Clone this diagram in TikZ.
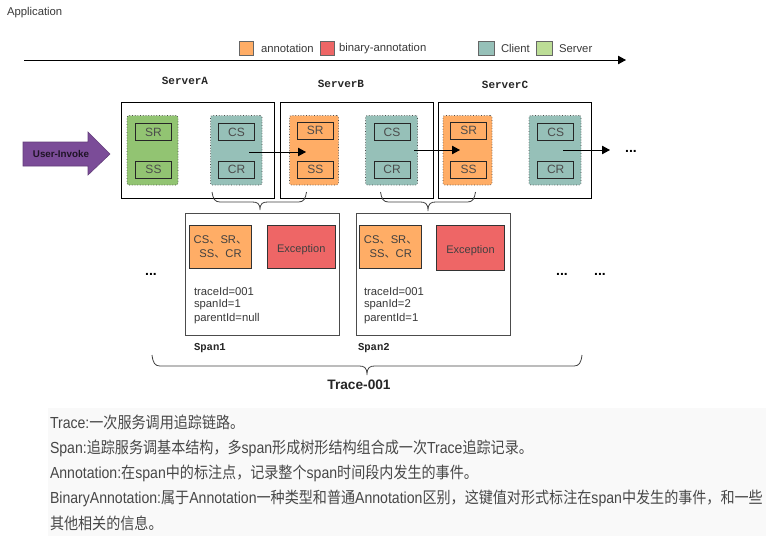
\documentclass[tikz,border=0pt]{standalone}
\usepackage{fontspec}
\setmainfont{Liberation Sans}
\newfontfamily\cjk{Noto Sans CJK SC}[FakeStretch=0.88]
\newfontfamily\cjkn{Noto Sans CJK SC}
\newfontfamily\narrow{Liberation Sans}[FakeStretch=0.88]
\newfontfamily\monob{Liberation Mono Bold}
\usetikzlibrary{arrows.meta}
\definecolor{cteal}{HTML}{96C0B8}
\definecolor{cgreen}{HTML}{92C472}
\definecolor{clgreen}{HTML}{BCDD96}
\definecolor{corange}{HTML}{FFAD66}
\definecolor{cred}{HTML}{EE6666}
\definecolor{cpurple}{HTML}{7B4C98}
\newcommand{\sz}[1]{\fontsize{#1}{#1}\selectfont}
\newcommand{\cbrace}[6]{\draw[bracel] (#1,#4) .. controls (#1+1,#5-3) and (#1+3,#5) .. (#1+8,#5) -- (#2-8,#5) .. controls (#2-3,#5) and (#2,#5+1) .. (#2,#6) .. controls (#2,#5+1) and (#2+3,#5) .. (#2+8,#5) -- (#3-8,#5) .. controls (#3-3,#5) and (#3-1,#5-3) .. (#3,#4);}
\tikzset{
  x=1pt,y=-1pt,
  every node/.style={inner sep=0pt,outer sep=0pt},
  label10/.style={font=\sz{11.3}\color{black!78},anchor=west},
  srv/.style={draw=black,line width=0.8pt,minimum width=#1,minimum height=96pt},
  grp/.style={draw=black!70,dotted,line width=0.7pt,rounded corners=2pt,minimum height=69.5pt,minimum width=#1},
  ev/.style={draw=black!85,line width=0.9pt,minimum width=36pt,minimum height=17pt,font=\sz{12}\color{black!70}},
  leg/.style={draw=black!60,line width=0.6pt,minimum height=14pt,minimum width=#1},
  sbox/.style={draw=black!70,line width=0.8pt,minimum height=121.5pt,minimum width=154pt},
  ann/.style={draw=black!80,line width=0.7pt,fill=corange,minimum width=62pt,minimum height=43pt,align=center,font=\sz{11.2}\color{black!75}},
  exc/.style={draw=black!80,line width=0.7pt,fill=cred,minimum height=43pt,minimum width=#1,font=\sz{11}\color{black!75},text height=11pt,text depth=0pt},
  ttl/.style={font=\monob\sz{11}\color{black!85}},
  spanl/.style={font=\monob\sz{10.6}\color{black!85},anchor=west},
  dots/.style={font=\bfseries\sz{14}},
  flow/.style={line width=0.8pt,-{Triangle[length=8pt,width=8.5pt]}},
  bracel/.style={draw=black!75,line width=0.8pt},
  body/.style={font=\sz{16}\color{black!72},anchor=west},
}
\begin{document}
\begin{tikzpicture}
\useasboundingbox (0,0) rectangle (766,536);
\fill[black!2.5] (48,408) rectangle (766,536);

\node[label10] (app) at (7,12.5) {Application};

% legend
\node[leg=14pt,fill=corange] (lega) at (246,48) {};
\node[label10] (legat) at (261,48.5) {annotation};
\node[leg=14pt,fill=cred] (legb) at (327,48) {};
\node[label10] (legbt) at (339,48.5) {binary-annotation};
\node[leg=16pt,fill=cteal] (legc) at (486,48) {};
\node[label10] (legct) at (501,48.5) {Client};
\node[leg=16pt,fill=clgreen] (legs) at (544.5,48) {};
\node[label10] (legst) at (559,48.5) {Server};

% time axis
\coordinate (axs) at (24,60);
\coordinate (axe) at (626,60);
\draw[flow] (axs) -- (axe);

% server titles
\node[ttl] (ta) at (185,81) {ServerA};
\node[ttl] (tb) at (341,84) {ServerB};
\node[ttl] (tc) at (505,85) {ServerC};

% user invoke
\draw[draw=cpurple!80!black,fill=cpurple,line width=0.6pt]
  (23,142) -- (88,142) -- (88,132) -- (110,154) -- (88,175) -- (88,166) -- (23,166) -- cycle;
\node[font=\bfseries\sz{9.8}\color{black!75!cpurple}] (ui) at (61,154) {User-Invoke};

% server boxes
\node[srv=152.5pt] (sa) at (197.75,150.5) {};
\node[srv=153.5pt] (sb) at (356.75,150.5) {};
\node[srv=153pt] (sc) at (515,150.5) {};

% groups
\node[grp=51pt,fill=cgreen] (ga) at (152.5,150.25) {};
\node[grp=51.5pt,fill=cteal] (ca) at (236.25,150.25) {};
\node[grp=49pt,fill=corange] (gb) at (314,150.25) {};
\node[grp=52pt,fill=cteal] (cb) at (391.5,150.25) {};
\node[grp=49pt,fill=corange] (gc) at (467.5,150.25) {};
\node[grp=52pt,fill=cteal] (cc) at (555,150.25) {};

\node[ev] (srA) at (153.5,132) {SR};
\node[ev] (ssA) at (153.5,169.5) {SS};
\node[ev] (csA) at (236.5,132) {CS};
\node[ev] (crA) at (236.5,169.5) {CR};
\node[ev] (srB) at (315.3,130.5) {SR};
\node[ev] (ssB) at (315.3,169.5) {SS};
\node[ev] (csB) at (392,132) {CS};
\node[ev] (crB) at (392,169.5) {CR};
\node[ev] (srC) at (468.7,130.5) {SR};
\node[ev] (ssC) at (468.7,169.5) {SS};
\node[ev] (csC) at (555.7,132) {CS};
\node[ev] (crC) at (555.7,169.5) {CR};

% flow arrows
\coordinate (f1s) at (249,152); \coordinate (f1e) at (306,152);
\coordinate (f2s) at (414,150); \coordinate (f2e) at (460,150);
\coordinate (f3s) at (563,150); \coordinate (f3e) at (610,150);
\draw[flow] (f1s) -- (f1e);
\draw[flow] (f2s) -- (f2e);
\draw[flow] (f3s) -- (f3e);
\node[dots] (d0) at (631,151) {...};

% braces
\cbrace{212}{260}{306.5}{192}{202}{210}
\cbrace{380.5}{428}{475.5}{192}{202}{211}
\cbrace{152}{367}{582}{355}{366}{375}

% span boxes
\node[sbox] (s1) at (262.5,274.25) {};
\node[sbox,minimum width=153.5pt] (s2) at (433.25,274.25) {};
\node[ann] (a1) at (220.5,247) {CS{\cjkn 、}SR{\cjkn 、}\\[2.5pt]SS{\cjkn 、}CR};
\node[exc=67.5pt] (e1) at (301.25,247) {Exception};
\node[ann] (a2) at (390.75,247) {CS{\cjkn 、}SR{\cjkn 、}\\[2.5pt]SS{\cjkn 、}CR};
\node[exc=67.5pt,minimum height=44.5pt] (e2) at (470.5,247.75) {Exception};

\node[label10] (t1a) at (194,291) {traceId=001};
\node[label10] (t1b) at (194,305) {spanId=1};
\node[label10] (t1c) at (194,319) {parentId=null};
\node[label10] (t2a) at (364,291) {traceId=001};
\node[label10] (t2b) at (364,305) {spanId=2};
\node[label10] (t2c) at (364,319) {parentId=1};

\node[spanl] (l1) at (194,348) {Span1};
\node[spanl] (l2) at (358,348) {Span2};

\node[dots] (d1) at (151,274) {...};
\node[dots] (d2) at (562,274) {...};
\node[dots] (d3) at (600,274) {...};

\node[font=\bfseries\sz{13.7}\color{black!85}] (trace) at (359,385) {Trace-001};

% text
\node[body] (x1) at (50,422) {\narrow Trace:\cjk 一次服务调用追踪链路。};
\node[body] (x2) at (50,448) {\narrow Span:\cjk 追踪服务调基本结构，多\narrow span\cjk 形成树形结构组合成一次\narrow Trace\cjk 追踪记录。};
\node[body] (x3) at (50,473) {\narrow Annotation:\cjk 在\narrow span\cjk 中的标注点，记录整个\narrow span\cjk 时间段内发生的事件。};
\node[body] (x4) at (50,498) {\narrow BinaryAnnotation:\cjk 属于\narrow Annotation\cjk 一种类型和普通\narrow Annotation\cjk 区别，这键值对形式标注在\narrow span\cjk 中发生的事件，和一些};
\node[body] (x5) at (50,523) {\cjk 其他相关的信息。};
\end{tikzpicture}
\end{document}
